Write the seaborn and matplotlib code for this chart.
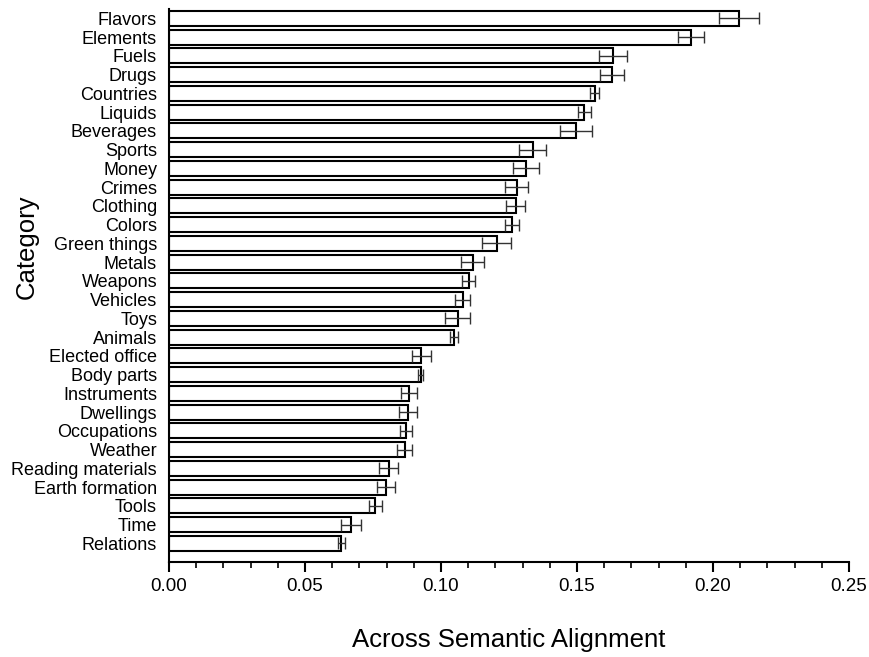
import pandas as pd
import seaborn as sns
import matplotlib.pyplot as plt
from matplotlib.ticker import AutoMinorLocator, MultipleLocator

# Category names (top to bottom), mean alignment and error half-widths
categories = ["Flavors", "Elements", "Fuels", "Drugs", "Countries", "Liquids",
              "Beverages", "Sports", "Money", "Crimes", "Clothing", "Colors",
              "Green things", "Metals", "Weapons", "Vehicles", "Toys", "Animals",
              "Elected office", "Body parts", "Instruments", "Dwellings",
              "Occupations", "Weather", "Reading materials", "Earth formation",
              "Tools", "Time", "Relations"]
values = [0.2095, 0.1919, 0.1632, 0.1629, 0.1565, 0.1527,
          0.1496, 0.1337, 0.1313, 0.1278, 0.1274, 0.1261,
          0.1205, 0.1116, 0.1102, 0.1079, 0.1061, 0.1048,
          0.0928, 0.0925, 0.0883, 0.0879,
          0.0870, 0.0866, 0.0807, 0.0798,
          0.0759, 0.0669, 0.0634]
errors = [0.0073, 0.0047, 0.0051, 0.0043, 0.0017, 0.0025,
          0.0059, 0.0050, 0.0049, 0.0041, 0.0034, 0.0026,
          0.0054, 0.0042, 0.0024, 0.0029, 0.0045, 0.0015,
          0.0035, 0.0008, 0.0029, 0.0033,
          0.0022, 0.0026, 0.0036, 0.0032,
          0.0023, 0.0037, 0.0012]

df = pd.DataFrame({"Category": categories, "Value": values, "Err": errors})

sns.set_style("ticks")
plt.rcParams['font.family'] = ['Liberation Sans', 'DejaVu Sans']
# plain black text and ticks like the original
for key in ["text.color", "axes.labelcolor", "xtick.color", "ytick.color"]:
    plt.rcParams[key] = "black"

fig = plt.figure(figsize=(8.69, 6.57), dpi=100)
ax = fig.add_axes([0.1945, 0.1446, 0.7825, 0.8417])

sns.barplot(data=df, x="Value", y="Category", orient="h", color="white",
            edgecolor="black", linewidth=1.5, errorbar=None, width=0.8, ax=ax)

# error bars drawn on top of the bars
ax.errorbar(df["Value"], range(len(df)), xerr=df["Err"], fmt="none",
            ecolor="#333333", elinewidth=1.0, capsize=4.3, capthick=1.0)

ax.set_xlim(0, 0.25)
ax.set_ylim(29.0, -0.5)
ax.xaxis.set_major_locator(MultipleLocator(0.05))
ax.xaxis.set_minor_locator(AutoMinorLocator(5))
ax.xaxis.set_major_formatter(plt.FormatStrFormatter("%.2f"))

ax.tick_params(axis="x", which="major", length=7.2, width=1.5, labelsize=13.5, pad=4.5)
ax.tick_params(axis="x", which="minor", length=4.3, width=1.2)
ax.tick_params(axis="y", length=0, labelsize=13, pad=8.6)

sns.despine(ax=ax)
for side in ["left", "bottom"]:
    ax.spines[side].set_linewidth(1.5)
    ax.spines[side].set_color("black")

ax.set_xlabel("Across Semantic Alignment", fontsize=18.5, va="top")
ax.set_ylabel("Category", fontsize=18.5)
ax.xaxis.set_label_coords(0.5, -0.119)
ax.yaxis.set_label_coords(-0.192, 0.57)

plt.savefig("out.png", dpi=100)
plt.close()
